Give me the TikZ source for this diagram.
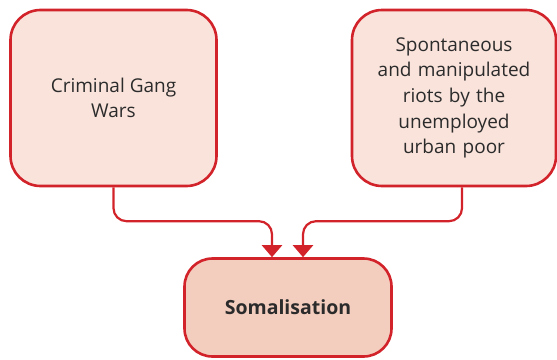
\documentclass[tikz,border=0pt]{standalone}
\usepackage{fontspec}
\setmainfont{Open Sans}
\usetikzlibrary{arrows.meta,calc}
\definecolor{boxred}{HTML}{D2232A}
\definecolor{palefill}{HTML}{F9E3DB}
\definecolor{deepfill}{HTML}{F3CEBF}
\definecolor{inktext}{HTML}{2B2B2B}
\tikzset{
  causebox/.style={draw=boxred, line width=2.6pt, fill=palefill, rounded corners=30pt,
    align=center, text=inktext, inner sep=0pt,
    font=\fontsize{19}{25.7}\selectfont},
  effectbox/.style={causebox, fill=deepfill, rounded corners=28pt, font=\fontsize{19.5}{25.7}\selectfont\bfseries},
  conn/.style={draw=boxred, line width=2.2pt, rounded corners=13pt,
    -{Triangle[width=20pt,length=12pt]}}
}
\begin{document}
\begin{tikzpicture}[x=1pt,y=-1pt]
\useasboundingbox (0,0) rectangle (557,359);
\node[causebox, minimum width=206pt, minimum height=176pt] (gang) at (113.5,98)
  {Criminal Gang\\Wars};
\node[causebox, minimum width=204pt, minimum height=176pt, text width=180pt] (riots) at (454,98)
  {Spontaneous\\and manipulated\\riots by the\\unemployed\\urban poor};
\node[effectbox, minimum width=207pt, minimum height=98pt] (soma) at (288,307.5)
  {Somalisation};
\coordinate (inL) at ($(soma.north)+(-16,0)$);
\coordinate (inR) at ($(soma.north)+(15,0)$);
\coordinate (outR) at ($(riots.south)+(8,0)$);
\draw[conn] (gang.south) |- ($(inL)+(0,-36)$) -- (inL);
\draw[conn] (outR) |- ($(inR)+(0,-36)$) -- (inR);
\end{tikzpicture}
\end{document}
